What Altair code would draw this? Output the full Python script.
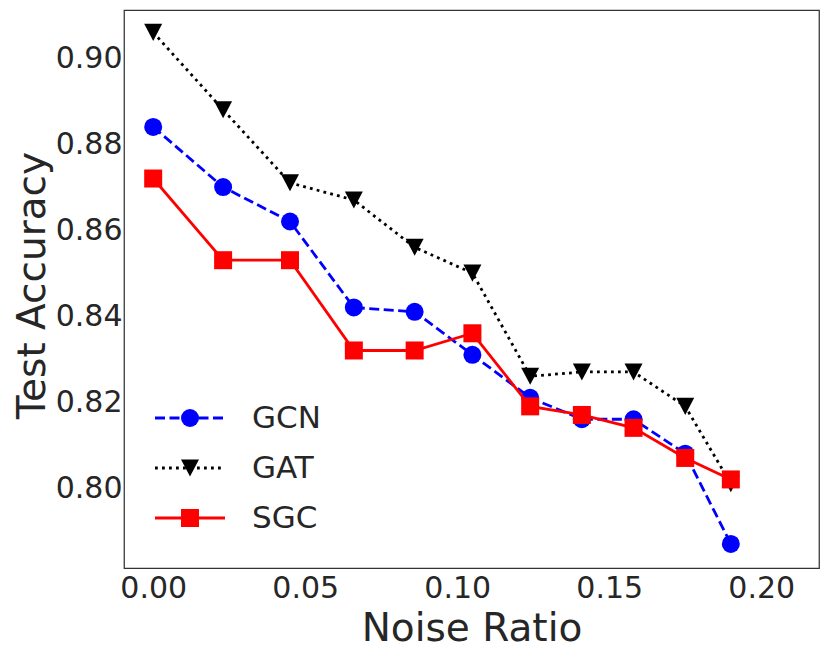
import altair as alt
import pandas as pd

# ---- data ----
noise = [0.0, 0.023, 0.045, 0.066, 0.086, 0.105, 0.124, 0.141, 0.158, 0.175, 0.190]
gcn = [0.884, 0.870, 0.862, 0.842, 0.841, 0.831, 0.821, 0.816, 0.816, 0.808, 0.787]
gat = [0.906, 0.888, 0.871, 0.867, 0.856, 0.850, 0.826, 0.827, 0.827, 0.819, 0.801]
sgc = [0.872, 0.853, 0.853, 0.832, 0.832, 0.836, 0.819, 0.817, 0.814, 0.807, 0.802]
models = ["GCN", "GAT", "SGC"]
x_ticks = [0.0, 0.05, 0.10, 0.15, 0.20]
y_ticks = [0.80, 0.82, 0.84, 0.86, 0.88, 0.90]

rows = []
for m, vals in zip(models, [gcn, gat, sgc]):
    for xv, yv in zip(noise, vals):
        rows.append({"model": m, "noise": xv, "acc": yv})
df = pd.DataFrame(rows)
legend_df = pd.DataFrame({"model": models})

FONT = "DejaVu Sans"
TEXT = "#262626"

styles = {
    "GCN": dict(color="#0000ff", dash=[10, 4.5], shape="circle"),
    "GAT": dict(color="#000000", dash=[2.8, 4.2], shape="M-1,-0.95L1,-0.95L0,0.95Z"),
    "SGC": dict(color="#ff0000", dash=None, shape="square"),
}

x_enc = alt.X(
    "noise:Q",
    scale=alt.Scale(domain=[-0.0096, 0.219], nice=False, zero=False),
    axis=alt.Axis(values=x_ticks, format=".2f", title="Noise Ratio",
                  labelPadding=5, titleY=41, titleBaseline="top"),
)
y_enc = alt.Y(
    "acc:Q",
    scale=alt.Scale(domain=[0.7814, 0.9112], nice=False, zero=False),
    axis=alt.Axis(values=y_ticks, format=".2f", title="Test Accuracy",
                  labelPadding=2, titleX=-79.5, titleY=275,
                  titleBaseline="alphabetic", titleAngle=270),
)

layers = []
base = alt.Chart(df)
for m in models:
    st = styles[m]
    line_kw = dict(color=st["color"], strokeWidth=2.8, strokeCap="butt")
    if st["dash"] is not None:
        line_kw["strokeDash"] = st["dash"]
    sub = base.transform_filter(alt.datum.model == m)
    layers.append(sub.mark_line(**line_kw).encode(x=x_enc, y=y_enc))
    layers.append(
        sub.mark_point(filled=True, shape=st["shape"], size=324, color=st["color"],
                       opacity=1).encode(x=x_enc, y=y_enc)
    )

# ---- legend (inside plot, lower left) ----
leg_y = {"GCN": 408, "GAT": 458, "SGC": 508}
lbase = alt.Chart(legend_df)
for m in models:
    st = styles[m]
    sub = lbase.transform_filter(alt.datum.model == m)
    rule_kw = dict(color=st["color"], strokeWidth=2.8, strokeCap="butt")
    if st["dash"] is not None:
        rule_kw["strokeDash"] = st["dash"]
    layers.append(sub.mark_rule(**rule_kw).encode(
        x=alt.value(31), x2=alt.value(101), y=alt.value(leg_y[m])))
    layers.append(sub.mark_point(filled=True, shape=st["shape"], size=324,
                                 color=st["color"], opacity=1).encode(
        x=alt.value(66), y=alt.value(leg_y[m])))
    layers.append(sub.mark_text(align="left", baseline="middle", font=FONT,
                                fontSize=31, color=TEXT).encode(
        x=alt.value(128), y=alt.value(leg_y[m] + 1), text="model:N"))

chart = (
    alt.layer(*layers)
    .properties(
        width=695,
        height=558,
        autosize=alt.AutoSizeParams(type="none"),
        padding={"left": 116, "top": 2, "right": 3, "bottom": 90},
        background="white",
    )
    .configure_axis(
        labelFont=FONT, labelFontSize=30, labelColor=TEXT,
        titleFont=FONT, titleFontSize=39, titleFontWeight="normal", titleColor=TEXT,
        domain=False, ticks=False, grid=False,
    )
    .configure_view(stroke="#333333", strokeWidth=1.25)
)

chart.save("out.html", embed_options={"renderer": "svg", "actions": False})
